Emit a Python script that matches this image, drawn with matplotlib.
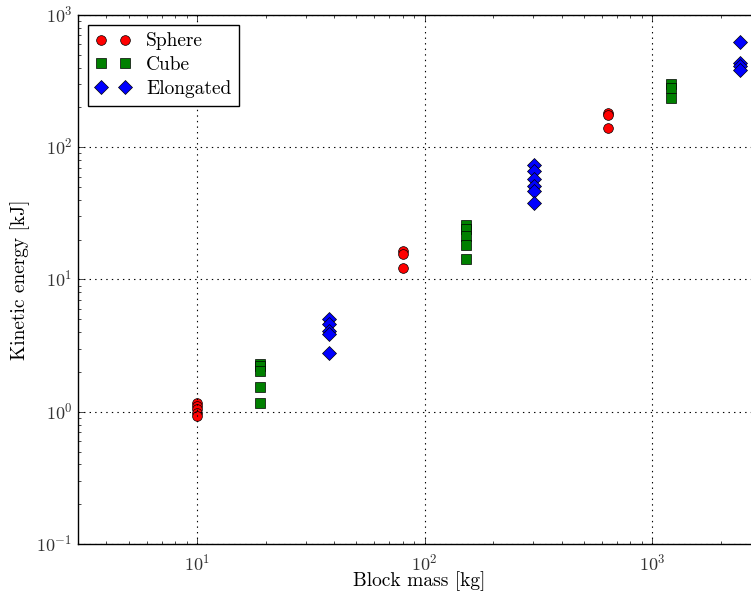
import matplotlib
matplotlib.use("Agg")
import matplotlib.pyplot as plt

# Block masses [kg] and measured kinetic energies [kJ] per shape
sphere_mass = [10, 10, 10, 10, 10, 80, 80, 80, 640, 640, 640]
sphere_energy = [1.17, 1.10, 1.04, 0.98, 0.93, 16.3, 15.6, 12.2, 180, 174, 140]

cube_mass = [19, 19, 19, 19, 19, 152, 152, 152, 152, 152, 1216, 1216, 1216]
cube_energy = [2.31, 2.20, 2.04, 1.55, 1.16, 26.0, 24.0, 21.5, 18.2, 14.2, 300, 280, 235]

elong_mass = [38, 38, 38, 38, 38, 304, 304, 304, 304, 304, 304,
              2432, 2432, 2432, 2432]
elong_energy = [5.0, 4.6, 4.1, 3.9, 2.8, 73, 66, 58, 51, 47, 38,
                625, 430, 410, 387]

plt.style.use("classic")
plt.rcParams["font.family"] = "cmr10"
plt.rcParams["mathtext.fontset"] = "cm"
plt.rcParams["axes.formatter.use_mathtext"] = True

fig = plt.figure(figsize=(7.51, 5.92), dpi=100, facecolor="white")
# axes run past the right edge of the figure
ax = fig.add_axes([0.1039, 0.0811, 0.909, 0.8936])

marker_kw = dict(linestyle="none", markeredgecolor="black", markeredgewidth=0.5)
ax.plot(sphere_mass, sphere_energy, "o", color="red", markersize=7, label="Sphere", **marker_kw)
ax.plot(cube_mass, cube_energy, "s", color="green", markersize=7, label="Cube", **marker_kw)
ax.plot(elong_mass, elong_energy, "D", color="blue", markersize=7, label="Elongated", **marker_kw)

ax.set_xscale("log")
ax.set_yscale("log")
ax.set_xlim(3, 3000)
ax.set_ylim(0.1, 1000)
ax.grid(True, which="major", linestyle=":", color="black", linewidth=0.8)

ax.tick_params(labelsize=13, labelcolor="#333333")
ax.tick_params(axis="x", pad=6)
ax.set_xlabel("Block mass [kg]", fontsize=14, labelpad=-1)
ax.set_ylabel("Kinetic energy [kJ]", fontsize=14)

ax.legend(loc="upper left", numpoints=2, fontsize=14, fancybox=False,
          frameon=True, edgecolor="black", borderaxespad=0.5,
          labelspacing=0.3, handlelength=1.8)

fig.savefig("out.png", dpi=100, facecolor="white")
